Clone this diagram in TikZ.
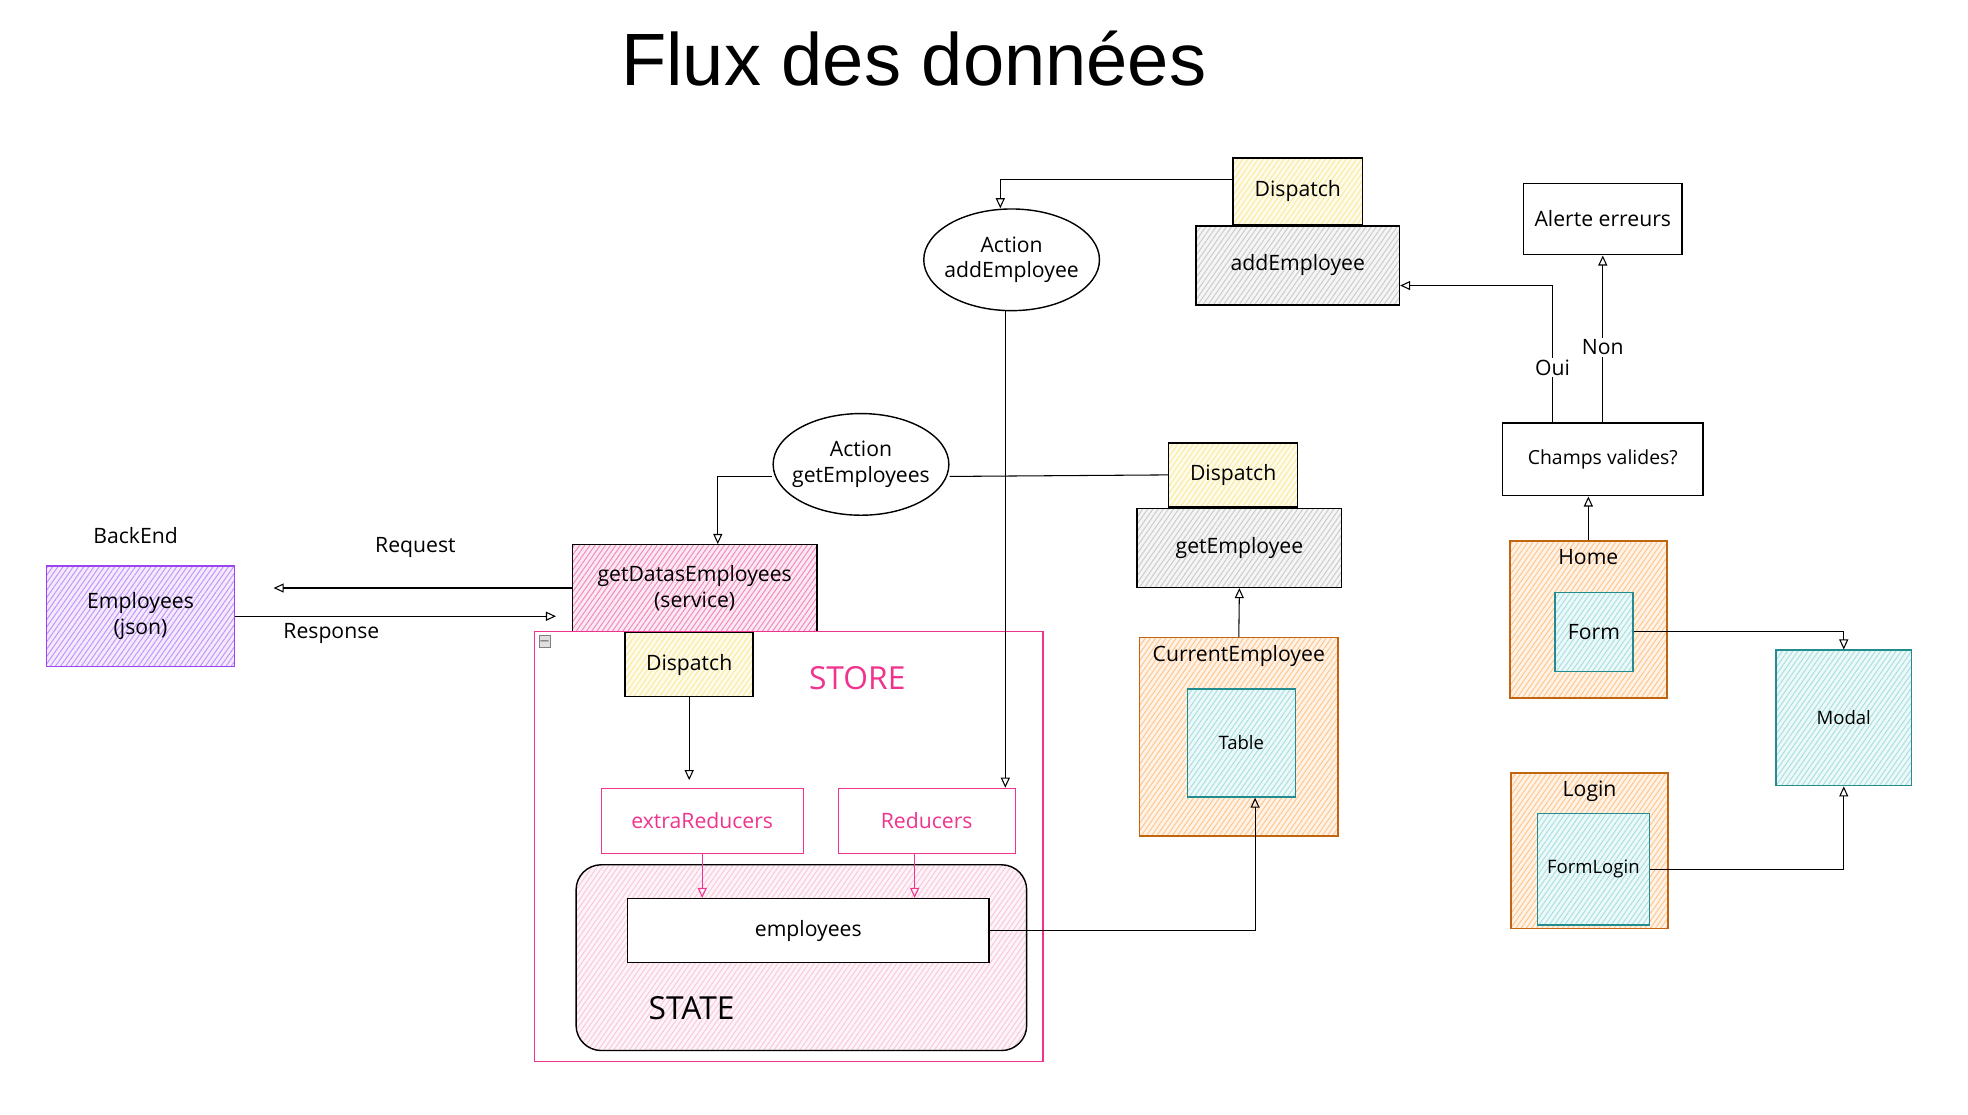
\documentclass[tikz,border=0pt]{standalone}
\usepackage{fontspec}
\setmainfont{Open Sans}
\newfontfamily\titlefont{Liberation Sans}
\usetikzlibrary{positioning,shapes.geometric,arrows.meta,patterns.meta}

\definecolor{storepink}{HTML}{F0338D}
\definecolor{jsonpurple}{HTML}{9B45F2}
\definecolor{jsonhatch}{HTML}{9E4DF7}
\definecolor{servicepink}{HTML}{E63D93}
\definecolor{statepink}{HTML}{F4A3C8}
\definecolor{dispyellow}{HTML}{F5DE5A}
\definecolor{actiongray}{HTML}{A8A8A8}
\definecolor{compborder}{HTML}{C2650F}
\definecolor{comporange}{HTML}{FF9F40}
\definecolor{compteal}{HTML}{238C8F}
\definecolor{tealhatch}{HTML}{6CC9CF}

\begin{document}
\begin{tikzpicture}[x=0.25mm, y=-0.25mm, >={Triangle[open,length=2mm,width=1.8mm]},
				every node/.style={font=\fontsize{12}{14.5}\selectfont},
				hatched/.style={preaction={fill=#1!12}, pattern={Lines[angle=55,distance=2.4pt,line width=0.55pt]}, pattern color=#1!60},
				box/.style={rectangle, draw=black, thick, align=center, inner sep=0pt},
				action/.style={ellipse, draw=black, thick, align=center, inner xsep=-3mm, inner ysep=0pt, minimum width=35mm, minimum height=20.25mm},
				dispatchbox/.style={box, hatched=dispyellow, minimum width=25.75mm, minimum height=13mm},
				creator/.style={box, hatched=actiongray, minimum width=40.5mm, minimum height=15.75mm},
				page/.style={box, draw=compborder, hatched=comporange, minimum width=31.25mm, minimum height=31.25mm},
				comp/.style={box, draw=compteal, hatched=tealhatch},
				reducer/.style={box, draw=storepink, semithick, text=storepink, minimum height=13mm},
				store/.style={rectangle, draw=storepink, semithick, minimum width=101.25mm, minimum height=85.75mm},
				statebox/.style={box, rounded corners=5mm, hatched=statepink, minimum width=89.75mm, minimum height=37mm},
				collapse/.style={rectangle, draw=gray, fill=gray!25, minimum size=2.2mm, inner sep=0pt, font=\fontsize{7}{7}\selectfont},
				lbl/.style={inner sep=1pt}
			]
			\useasboundingbox (0,0) rectangle (1568,888);
			\node[font=\titlefont\fontsize{42}{48}\selectfont] (title) at (728,47) {Flux des données};

			% back end et service
			\node[lbl] (backend) at (108,427) {BackEnd};
			\node[box, draw=jsonpurple, hatched=jsonhatch, minimum width=37.5mm, minimum height=20mm] (json) at (112,491) {Employees\\(json)};
			\node[box, hatched=servicepink, minimum width=48.75mm, minimum height=17.25mm] (getdatas) at (553.5,468.5) {getDatasEmployees\\(service)};
			\node[lbl] (request) at (331,436) {Request};
			\node[lbl] (response) at (264,505) {Response};
			\coordinate (reqend) at (218,468.5);
			\coordinate (respend) at (443,491);

			% store
			\node[store] (store) at (628.5,674.5) {};
			\node[collapse] (collapse) at (434,511) {$-$};
			\node[dispatchbox, minimum width=25.5mm, minimum height=12.75mm] (dispstore) [below=0pt of getdatas, xshift=-1.1mm] {Dispatch};
			\node[lbl, text=storepink, font=\fontsize{18}{20}\selectfont] (storelbl) at (683,540) {STORE};
			\node[reducer, minimum width=40.25mm] (extra) at (559.5,654) {extraReducers};
			\node[reducer, minimum width=35.25mm] (reducers) [right=6.75mm of extra] {Reducers};
			\node[statebox] (state) at (638.5,763) {};
			\node[box, fill=white, minimum width=72mm, minimum height=12.75mm] (employees) at (644,741.5) {employees};
			\node[lbl, font=\fontsize{18}{20}\selectfont] (statelbl) at (551,803) {STATE};

			% actions
			\node[action] (actget) at (686,370) {Action\\getEmployees};
			\node[action] (actadd) at (806,207) {Action\\addEmployee};
			\node[creator, minimum width=40.75mm] (getemp) at (987.5,436.5) {getEmployee};
			\node[dispatchbox, minimum height=12.75mm] (dispget) [above=0pt of getemp, xshift=-1.25mm] {Dispatch};
			\node[creator] (addemp) at (1034,211.5) {addEmployee};
			\node[dispatchbox, minimum height=13.25mm] (dispadd) [above=0pt of addemp] {Dispatch};

			% composants
			\node[page, minimum width=39.5mm, minimum height=39.5mm] (current) at (987,587) {};
			\node[lbl] (currentlbl) [below=1.35mm of current.north] {CurrentEmployee};
			\node[comp, minimum width=21.5mm, minimum height=21.5mm, font=\fontsize{10.5}{12}\selectfont] (table) at (989,592) {Table};
			\node[box, minimum width=31.5mm, minimum height=14.25mm] (alerte) at (1277,174.5) {Alerte erreurs};
			\node[box, minimum width=40mm, minimum height=14.5mm, font=\fontsize{11}{13}\selectfont] (champs) at (1277,366) {Champs valides?};
			\node[page] (home) at (1265.5,493.5) {};
			\node[lbl] (homelbl) [below=1.35mm of home.north] {Home};
			\node[comp, minimum width=15.5mm, minimum height=15.75mm] (form) at (1270,503.5) {Form};
			\node[page, minimum height=31mm] (login) at (1266.5,678) {};
			\node[lbl] (loginlbl) [below=1.35mm of login.north] {Login};
			\node[comp, minimum width=22.25mm, minimum height=22.25mm, font=\fontsize{10.5}{12}\selectfont] (formlogin) at (1269.5,692.5) {FormLogin};
			\node[comp, minimum width=27mm, minimum height=27mm, font=\fontsize{10.5}{12}\selectfont] (modal) at (1469,572) {Modal};

			\coordinate (redout) at ([xshift=-2.4mm]reducers.south);
			\coordinate (addout) at ([xshift=-1.25mm]actadd.south);
			\begin{scope}[semithick]
			\draw[->] (getdatas.west) -- (reqend);
			\draw[->] (json.east) -- (respend);
			\draw[->] ([yshift=-2.4mm]actget.west) -| ([xshift=4.6mm]getdatas.north);
			\draw ([yshift=-2.4mm]actget.east) -- (dispget.west);
			\draw[->] ([yshift=2.4mm]dispadd.west) -| ([xshift=-2.25mm]actadd.north);
			\draw[->] (addout) -- (addout |- reducers.north);
			\draw[->, shorten >=1.5mm] (dispstore.south) -- (dispstore.south |- extra.north);
			\draw[->] (current.north) -- (getemp.south);
			\draw[->] (employees.east) -| ([xshift=2.75mm]table.south);
			\draw[->] ([xshift=-10mm]champs.north) |- ([yshift=-4mm]addemp.east) node[lbl, fill=white, pos=0.2] (oui) {Oui};
			\draw[->] (champs.north) -- (alerte.south) node[lbl, fill=white, pos=0.45] (non) {Non};
			\draw[->] (home.north) -- (home.north |- champs.south);
			\draw[->] (form.east) -| (modal.north);
			\draw[->] (formlogin.east) -| (modal.south);
			\end{scope}
			\begin{scope}[semithick, draw=storepink]
			\draw[->] (extra.south) -- (extra.south |- employees.north);
			\draw[->] (redout) -- (redout |- employees.north);
			\end{scope}
			\end{tikzpicture}
\end{document}
